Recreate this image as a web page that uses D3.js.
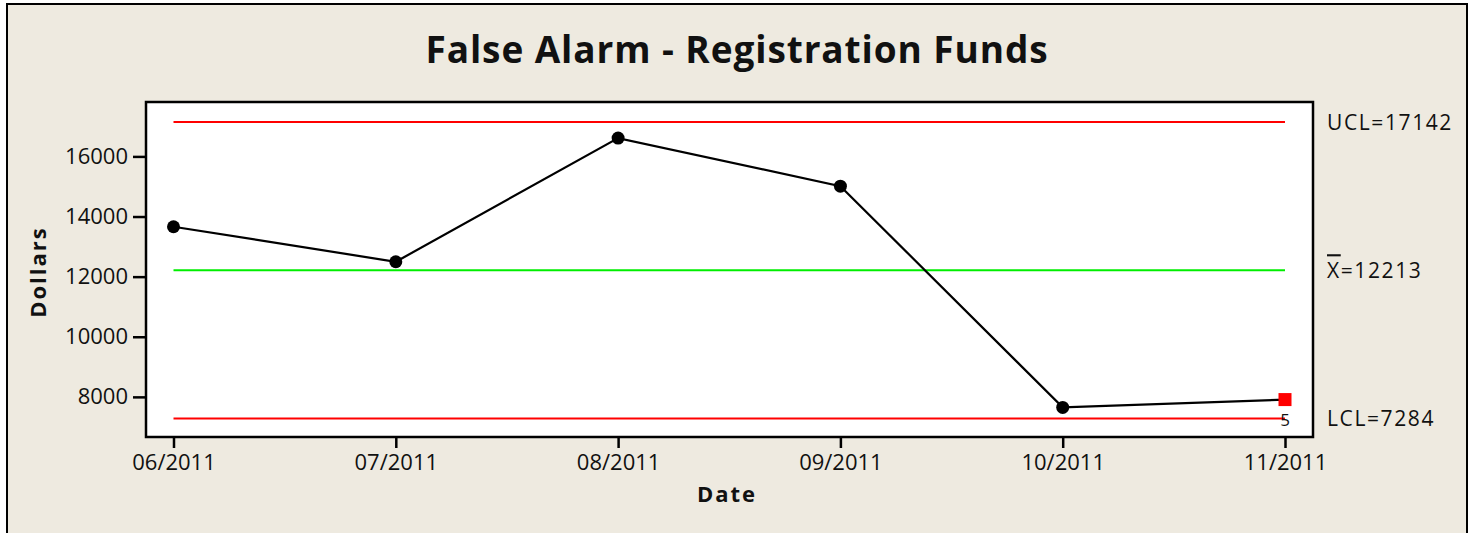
<!DOCTYPE html>
<html>
<head>
<meta charset="utf-8">
<script src="https://cdn.jsdelivr.net/npm/d3@7"></script>
<style>
  body { margin: 0; background: #fff; }
  text { font-family: "Open Sans", "DejaVu Sans", sans-serif; fill: #111; }
</style>
</head>
<body>
<div id="chart"></div>
<script>
// chart values
const months = ["06/2011", "07/2011", "08/2011", "09/2011", "10/2011", "11/2011"];
const dollars = [13660, 12495, 16610, 15010, 7650, 7910];
const yTicks = [8000, 10000, 12000, 14000, 16000];
const limits = [
    { name: "UCL", value: 17142, color: "#ff0000" },
    { name: "X", value: 12213, color: "#00ee00" },
    { name: "LCL", value: 7284, color: "#ff0000" }
];
const flagged = [{ index: 5, test: "5" }];

const W = 1472, H = 533;
const plot = { left: 146, top: 102, right: 1313, bottom: 437 };

const svg = d3.select("#chart")
    .append("svg")
    .attr("width", W)
    .attr("height", H);

// beige panel with outer frame
svg.append("rect")
    .attr("x", 7).attr("y", 4)
    .attr("width", 1460).attr("height", 540)
    .attr("fill", "#eeeae0")
    .attr("stroke", "#000")
    .attr("stroke-width", 2);

// plot area
svg.append("rect")
    .attr("x", plot.left).attr("y", plot.top)
    .attr("width", plot.right - plot.left)
    .attr("height", plot.bottom - plot.top)
    .attr("fill", "#fff")
    .attr("stroke", "#000")
    .attr("stroke-width", 2.5);

// scales
const x = d3.scalePoint()
    .domain(months)
    .range([173.5, 1285]);

const y = d3.scaleLinear()
    .domain([6665, 17810])
    .range([plot.bottom, plot.top]);

// axes
const xAxis = svg.append("g")
    .attr("transform", `translate(0,${plot.bottom + 1})`)
    .call(d3.axisBottom(x).tickSize(10).tickPadding(6));
xAxis.select(".domain").remove();
xAxis.selectAll("line").attr("stroke", "#000").attr("stroke-width", 2.5);
xAxis.selectAll("text")
    .style("font-size", "22px")
    .style("font-family", "'Open Sans', sans-serif")
    .attr("fill", "#111");

const yAxis = svg.append("g")
    .attr("transform", `translate(${plot.left - 1},0)`)
    .call(d3.axisLeft(y).tickValues(yTicks).tickFormat(d3.format("d")).tickSize(12).tickPadding(5));
yAxis.select(".domain").remove();
yAxis.selectAll("line").attr("stroke", "#000").attr("stroke-width", 2.5);
yAxis.selectAll("text")
    .style("font-size", "22px")
    .style("font-family", "'Open Sans', sans-serif")
    .attr("fill", "#111");

// control limit lines
svg.selectAll(".limit")
    .data(limits)
    .enter()
    .append("line")
    .attr("class", "limit")
    .attr("x1", x(months[0]))
    .attr("x2", x(months[months.length - 1]))
    .attr("y1", d => y(d.value))
    .attr("y2", d => y(d.value))
    .attr("stroke", d => d.color)
    .attr("stroke-width", 2);

// limit labels on the right
const labels = svg.selectAll(".limit-label")
    .data(limits)
    .enter()
    .append("text")
    .attr("class", "limit-label")
    .attr("x", 1327)
    .attr("y", d => y(d.value) + 8)
    .style("font-size", "21px")
    .style("letter-spacing", "1.6px");
labels.append("tspan")
    .style("text-decoration", d => d.name === "X" ? "overline" : null)
    .text(d => d.name);
labels.append("tspan")
    .text(d => "=" + d.value);

// data line
const line = d3.line()
    .x((d, i) => x(months[i]))
    .y(d => y(d));

svg.append("path")
    .datum(dollars)
    .attr("fill", "none")
    .attr("stroke", "#000")
    .attr("stroke-width", 2.2)
    .attr("d", line);

const flagIdx = flagged.map(f => f.index);

svg.selectAll(".pt")
    .data(dollars.map((v, i) => ({ v, i })).filter(d => !flagIdx.includes(d.i)))
    .enter()
    .append("circle")
    .attr("class", "pt")
    .attr("cx", d => x(months[d.i]))
    .attr("cy", d => y(d.v))
    .attr("r", 6.5)
    .attr("fill", "#000");

svg.selectAll(".flag")
    .data(flagged)
    .enter()
    .append("rect")
    .attr("class", "flag")
    .attr("x", d => x(months[d.index]) - 6.5)
    .attr("y", d => y(dollars[d.index]) - 6.5)
    .attr("width", 13)
    .attr("height", 13)
    .attr("fill", "#ff0000");

svg.selectAll(".flag-label")
    .data(flagged)
    .enter()
    .append("text")
    .attr("class", "flag-label")
    .attr("x", d => x(months[d.index]))
    .attr("y", d => y(dollars[d.index]) + 26)
    .attr("text-anchor", "middle")
    .style("font-size", "17px")
    .text(d => d.test);

// title
svg.append("text")
    .attr("x", 737)
    .attr("y", 63)
    .attr("text-anchor", "middle")
    .style("font-size", "37px")
    .style("font-weight", "bold")
    .style("letter-spacing", "0.9px")
    .text("False Alarm - Registration Funds");

// axis titles
svg.append("text")
    .attr("x", 727)
    .attr("y", 502)
    .attr("text-anchor", "middle")
    .style("font-size", "22px")
    .style("font-weight", "bold")
    .style("letter-spacing", "2px")
    .text("Date");

svg.append("text")
    .attr("transform", "translate(46,272) rotate(-90)")
    .attr("text-anchor", "middle")
    .style("font-size", "22px")
    .style("font-weight", "bold")
    .style("letter-spacing", "2px")
    .text("Dollars");
</script>
</body>
</html>
